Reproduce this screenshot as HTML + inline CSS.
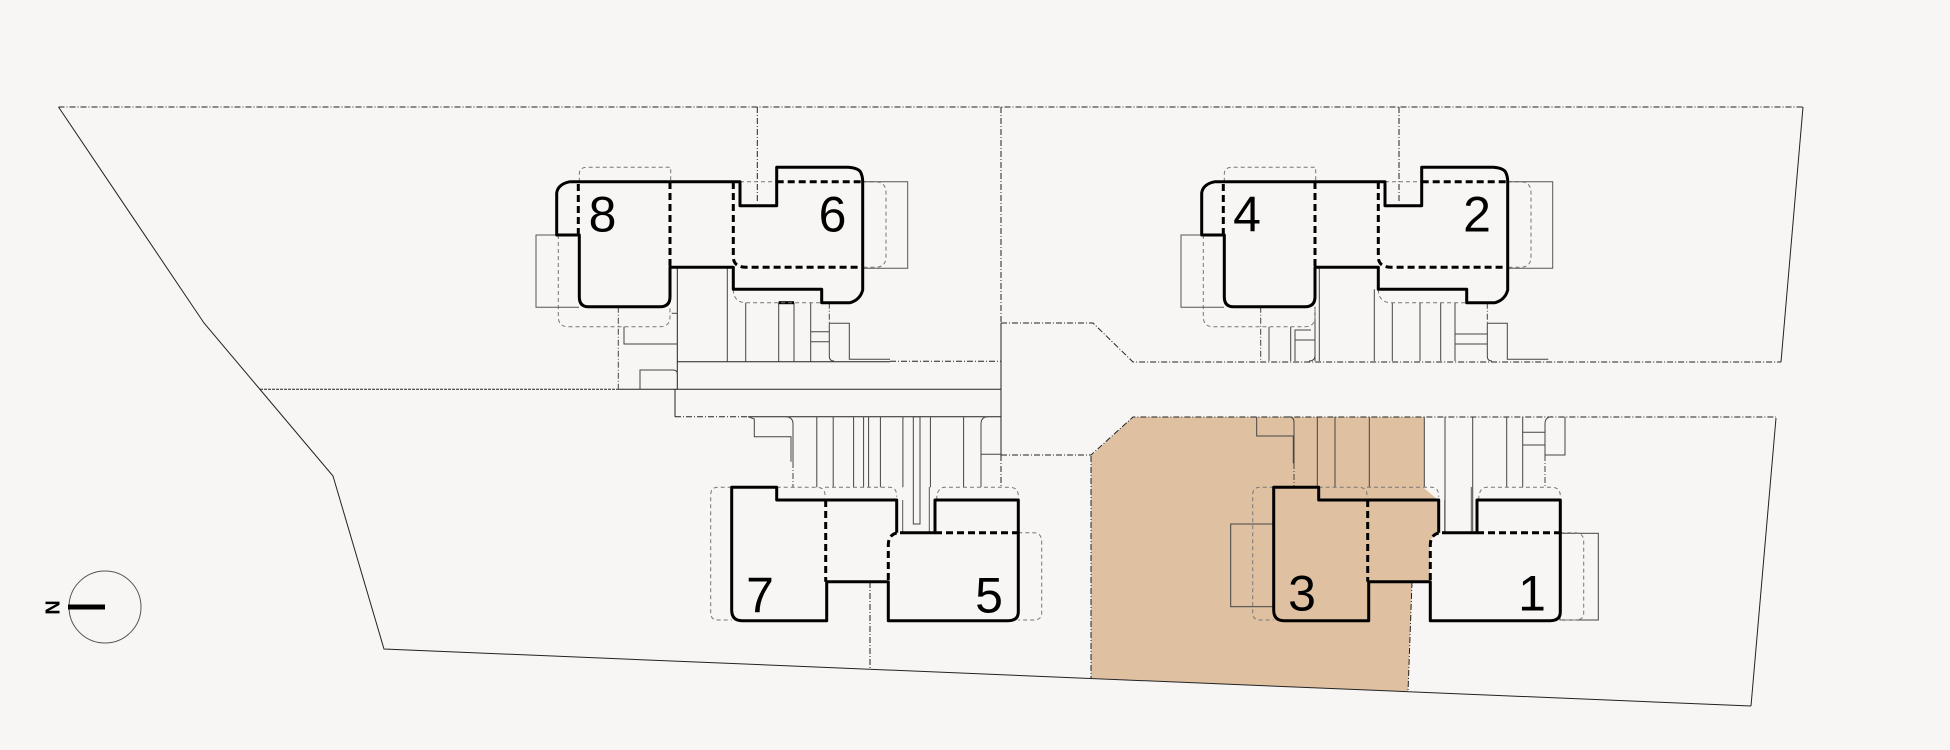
<!DOCTYPE html>
<html><head><meta charset="utf-8"><style>
html,body{margin:0;padding:0;background:#f7f6f4;}
svg{display:block;}
text{font-family:"Liberation Sans",sans-serif;}
</style></head><body>
<svg width="1950" height="750" viewBox="0 0 1950 750" xmlns="http://www.w3.org/2000/svg">
<rect x="0" y="0" width="1950" height="750" fill="#f7f6f4"/>
<defs>
<g id="bTop">
  <g fill="none" stroke="#777" stroke-width="1" stroke-dasharray="4 3">
    <path d="M579.3,181.7 L579.3,174 Q579.3,167.3 587,167.3 L670.7,167.3 L670.7,181.7"/>
    <path d="M740,181.7 L776.7,181.7"/>
    <path d="M862.7,181.7 L875,181.7 Q886,181.7 886,192.7 L886,256.7 Q886,267.3 875,267.3 L862.7,267.3"/>
    <path d="M558.3,235 L558.3,316.7 Q558.3,326.7 568.3,326.7 L660,326.7 Q670,326.7 670,316.7 L670,306"/>
    <path d="M733.3,289.3 Q733.3,302.7 746.7,302.7 L821.7,302.7"/>
  </g>
  <g fill="none" stroke="#555" stroke-width="1">
    <path d="M557,235 L536,235 L536,307.3 L579,307.3"/>
    <path d="M863.3,181.7 L907.7,181.7 L907.7,268.3 L863.3,268.3"/>
  </g>
  <path d="M556.7,235 L556.7,193 Q558,184 570,181.7 L740,181.7 L740,205.7 L776.7,205.7 L776.7,167.3 L848.3,167.3 Q858,168 860.5,172 Q862.7,176 862.7,182 L862.7,290 Q860,300 850,302.7 L821.7,302.7 L821.7,289.3 L733.3,289.3 L733.3,267.3 L670,267.3 L670,296.7 Q670,306.7 660,306.7 L588.3,306.7 Q579.3,306.7 579.3,296.7 L579.3,235 Z" fill="none" stroke="#000" stroke-width="3" stroke-linejoin="round"/>
  <g fill="none" stroke="#000" stroke-width="3" stroke-dasharray="7 4">
    <path d="M578.3,184 L578.3,235"/>
    <path d="M670,182 L670,267.3"/>
    <path d="M733.3,182 L733.3,256.7 Q733.3,267.3 746.7,267.3 L862.7,267.3"/>
    <path d="M776.7,181.7 L862.7,181.7"/>
  </g>
</g>
<g id="bBot">
  <g fill="none" stroke="#777" stroke-width="1" stroke-dasharray="4 3">
    <path d="M731.7,487.3 L718,487.3 Q710.7,487.3 710.7,495 L710.7,613 Q710.7,620 718,620 L731.7,620"/>
    <path d="M776.7,487.3 L816.7,487.3 Q825,487.3 825,495"/>
    <path d="M825,487.3 L890,487.3 Q896.7,487.3 896.7,496.7"/>
    <path d="M936.7,500 Q936.7,487.3 945,487.3 L1010,487.3 Q1018.3,487.3 1018.3,496"/>
    <path d="M1018.3,532.7 L1033.3,532.7 Q1041.7,532.7 1041.7,541.7 L1041.7,613.3 Q1041.7,620 1033.3,620 L1018.3,620"/>
  </g>
  <g fill="none" stroke="#555" stroke-width="1">
    <path d="M902.7,500 L902.7,532.7"/>
    <path d="M929.3,487 L929.3,532.7"/>
  </g>
  <path d="M896.7,532.7 L896.7,500 L776.7,500 L776.7,487.3 L731.7,487.3 L731.7,610 Q731.7,620.7 742,620.7 L826.7,620.7 L826.7,581.7 L888.3,581.7 L888.3,620.7 L1008,620.7 Q1018.3,620.7 1018.3,612 L1018.3,500 L935,500 L935,532.7 L900,532.7" fill="none" stroke="#000" stroke-width="3" stroke-linejoin="round"/>
  <g fill="none" stroke="#000" stroke-width="3" stroke-dasharray="7 4">
    <path d="M825.7,500 L825.7,581.7"/>
    <path d="M896.7,533 Q888.3,535 888.3,545 L888.3,581.7"/>
    <path d="M935,532.7 L1018.3,532.7"/>
  </g>
</g>
</defs>

<path d="M1091,456 L1133,417 L1424,417 L1424,488 L1438,500 L1438,533 L1430,540 L1430,582 L1412,582 L1408,692 L1091,678 Z" fill="#dfc1a1"/>

<g fill="none" stroke="#222" stroke-width="1">
  <path d="M58.5,107 L1803,107" stroke-dasharray="6 2 1 2"/>
  <path d="M58.5,107 L204,323 L333,476 L384,649 L1751,706"/>
  <path d="M1803,107 L1781,362"/>
  <path d="M1776,418 L1751,706"/>
  <path d="M1001,107 L1001,323" stroke-dasharray="6 2 1 2"/>
  <path d="M1001,323 L1001,455"/>
  <path d="M1001,455 L1001,488" stroke-dasharray="6 2 1 2"/>
  <path d="M1001,323 L1093,323 L1133,362 L1781,362" stroke-dasharray="6 2 1 2"/>
  <path d="M1001,455 L1091,455 L1133,417 L1776,417" stroke-dasharray="6 2 1 2"/>
  <path d="M1091,456 L1091,678" stroke-dasharray="6 2 1 2"/>
  <path d="M1412,582 L1408,692" stroke-dasharray="6 2 1 2"/>
  <path d="M870,582 L870,669" stroke-dasharray="6 2 1 2"/>
  <path d="M260,389.3 L618,389.3" stroke-dasharray="3 1"/>
  <path d="M618,389.3 L1001,389.3"/>
  <path d="M677.3,267.3 L677.3,389.3"/>
  <path d="M675,389.3 L675,416.7"/>
  <path d="M677.3,361.7 L890,361.7"/>
  <path d="M890,361.3 L1001,361.3" stroke-dasharray="6 2 1 2"/>
  <path d="M675,416.7 L748,416.7" stroke-dasharray="6 2 1 2"/>
  <path d="M748,416.7 L1001,416.7"/>
  <path d="M757.3,107 L757.3,203" stroke-dasharray="6 2 1 2"/>
  <path d="M1399,107 L1399,203" stroke-dasharray="6 2 1 2"/>
</g>

<g fill="none" stroke="#444" stroke-width="1">
  <path d="M618.3,306.7 L618.3,389.3" stroke-dasharray="6 2 1 2"/>
  <path d="M671.7,313.3 L677.3,313.3"/>
  <path d="M624,326.7 L624,344 L677.3,344"/>
  <path d="M640,389.3 L640,370 L673,370 Q677.3,370 677.3,374"/>
  <path d="M727.3,267.3 L727.3,361.7"/>
  <path d="M745.7,302.7 L745.7,361.7"/>
  <path d="M778.7,302.7 L778.7,361.7"/>
  <path d="M794,302.7 L794,361.7"/>
  <path d="M810.7,302.7 L810.7,361.7"/>
  <path d="M810.7,331.7 L829.3,331.7 M810.7,341.7 L829.3,341.7"/>
  <path d="M829.3,302.7 L829.3,323.3" stroke-dasharray="6 2 1 2"/>
  <path d="M829.3,323.3 L829.3,356 Q829.3,361 834,361"/>
  <path d="M829.3,323.3 L849.3,323.3 L849.3,359.3 L890,359.3"/>
</g>
<path d="M778.7,302.7 L794,302.7" stroke="#000" stroke-width="3"/>

<g fill="none" stroke="#444" stroke-width="1">
  <path d="M1260.7,306.7 L1260.7,361" stroke-dasharray="6 2 1 2"/>
  <path d="M1269,327 L1269,361"/>
  <path d="M1290.7,327 L1290.7,361"/>
  <path d="M1295,361 L1295,330 L1311,330 M1295,340 L1315,340 M1309,361 Q1315,361 1315,355"/>
  <path d="M1315,306.7 L1315,361"/>
  <path d="M1319.3,267.3 L1319.3,361"/>
  <path d="M1374.3,289.3 L1374.3,361"/>
  <path d="M1392.3,302.7 L1392.3,361"/>
  <path d="M1420,302.7 L1420,361"/>
  <path d="M1440.7,302.7 L1440.7,361"/>
  <path d="M1455,302.7 L1455,361"/>
  <path d="M1455,334 L1487.3,334 M1455,344 L1487.3,344"/>
  <path d="M1487.3,302.7 L1487.3,323.3" stroke-dasharray="6 2 1 2"/>
  <path d="M1487.3,323.3 L1487.3,356 Q1487.3,361 1492,361"/>
  <path d="M1487.3,323.3 L1507.3,323.3 L1507.3,359.3 L1548.3,359.3"/>
</g>

<g fill="none" stroke="#444" stroke-width="1">
  <path d="M748,416.7 L754.3,419 L754.3,436.7 L791,436.7 L791,461.7"/>
  <path d="M785.7,416.7 Q793,417 793,424 L793,462"/>
  <path d="M793,462 L793,487.3" stroke-dasharray="6 2 1 2"/>
  <path d="M816.8,416.7 L816.8,487.3 M833.2,416.7 L833.2,487.3 M853.6,416.7 L853.6,487.3 M863.6,416.7 L863.6,487.3 M868.6,416.7 L868.6,487.3 M880.4,416.7 L880.4,487.3 M902.9,416.7 L902.9,487.3 M930.4,416.7 L930.4,487.3 M963.6,416.7 L963.6,487.3"/>
  <rect x="913.3" y="416.7" width="6.7" height="107.3"/>
  <path d="M981,487 L981,424 Q981,416.7 988,416.7"/>
  <path d="M981,454.3 L1001,454.3"/>
</g>

<g fill="none" stroke="#444" stroke-width="1">
  <path d="M1256.7,416.7 L1256.7,436 L1293.3,436 L1293.3,463.3"/>
  <path d="M1289,416.7 Q1294,417 1294,422 L1294,463"/>
  <path d="M1294,463 L1294,487.3" stroke-dasharray="6 2 1 2"/>
  <path d="M1317.3,416.7 L1317.3,487.3 M1335,416.7 L1335,487.3 M1369.3,416.7 L1369.3,487.3 M1424.3,416.7 L1424.3,487.3 M1445,416.7 L1445,532.7 M1472.7,416.7 L1472.7,532.7 M1506.7,416.7 L1506.7,487.3 M1522.7,416.7 L1522.7,487.3"/>
  <path d="M1522.7,432.3 L1545,432.3 M1522.7,445 L1545,445"/>
  <path d="M1545,455 L1545,424 Q1545,416.7 1552,416.7"/>
  <path d="M1545,455 L1545,487" stroke-dasharray="6 2 1 2"/>
  <path d="M1545,455 L1565,455 L1565,416.7"/>
  <rect x="1230.7" y="524" width="43.3" height="82.7"/>
  <rect x="1560" y="533.3" width="38.3" height="86.7"/>
</g>

<use href="#bTop"/>
<use href="#bTop" transform="translate(645,0)"/>
<use href="#bBot"/>
<use href="#bBot" transform="translate(542,0)"/>

<g font-size="50" fill="#000" text-anchor="middle">
  <text x="602.5" y="231.5">8</text>
  <text x="832.5" y="231.5">6</text>
  <text x="1247" y="231.5">4</text>
  <text x="1477" y="231.5">2</text>
  <text x="760" y="612.5">7</text>
  <text x="989" y="612.5">5</text>
  <text x="1302" y="610.5">3</text>
  <text x="1532" y="610.5">1</text>
</g>

<circle cx="105" cy="607" r="36" fill="none" stroke="#555" stroke-width="1"/>
<rect x="68" y="604.5" width="37" height="5" fill="#000"/>
<text x="51.5" y="607.5" font-size="20" font-weight="bold" text-anchor="middle" dominant-baseline="central" transform="rotate(90 51.5 607.5)" fill="#000">N</text>
</svg>
</body></html>
